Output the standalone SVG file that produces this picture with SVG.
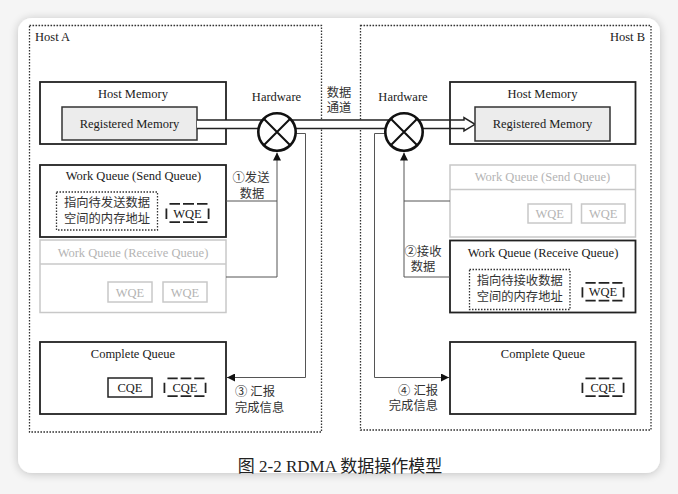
<svg xmlns="http://www.w3.org/2000/svg" xmlns:xlink="http://www.w3.org/1999/xlink" width="678" height="494" viewBox="0 0 678 494">
  <defs>
    <style>
      .t { font-family: "Liberation Serif", "Noto Sans CJK SC", serif; font-size: 12.5px; fill: #1a1a1a; }
      .zh { font-family: "Liberation Serif", "Noto Sans CJK SC", sans-serif; font-size: 12.3px; fill: #333; }
      .mid { text-anchor: middle; }
      .end { text-anchor: end; }
      .grey { fill: #b4b4b4; }
      .box { fill: #fff; stroke: #222; stroke-width: 1.8; }
      .reg { fill: #ececec; stroke: #333; stroke-width: 1.5; }
      .gbox { fill: #fff; stroke: #c8c8c8; stroke-width: 1.5; }
      .sbox { fill: #fff; stroke: #222; stroke-width: 1.5; }
      .dots { fill: #fff; stroke: #333; stroke-width: 1.3; stroke-dasharray: 1.5 1.5; }
      .host { fill: none; stroke: #333; stroke-width: 1.3; stroke-dasharray: 1.6 1.4; }
      .wire { fill: none; stroke: #555; stroke-width: 1; }
      .pipe { fill: none; stroke: #222; stroke-width: 1.5; }
      .hw { fill: #fff; stroke: #111; stroke-width: 2.6; }
      .hwx { stroke: #111; stroke-width: 2; }
      .cap { font-family: "Liberation Serif", "Noto Sans CJK SC", serif; font-size: 17px; fill: #222; }
    </style>
    <filter id="shadow" x="-5%" y="-5%" width="110%" height="112%">
      <feGaussianBlur in="SourceAlpha" stdDeviation="5"/>
      <feOffset dy="1"/>
      <feComponentTransfer><feFuncA type="linear" slope="0.22"/></feComponentTransfer>
      <feMerge><feMergeNode/><feMergeNode in="SourceGraphic"/></feMerge>
    </filter>
    <!-- heavy dashed entry box (WQE / CQE placeholders) -->
    <symbol id="dbox" viewBox="0 0 44 20" width="44" height="20" overflow="visible">
      <path d="M4,0.9 H14.5 M17.5,0.9 H28.5 M31.5,0.9 H42 M4,19.1 H14.5 M17.5,19.1 H28.5 M31.5,19.1 H42 M0.9,5.5 V16 M43.1,5.5 V16" fill="none" stroke="#222" stroke-width="1.8"/>
    </symbol>
    <marker id="arr" viewBox="0 0 10 10" refX="10" refY="5" markerWidth="8" markerHeight="8" markerUnits="userSpaceOnUse" orient="auto">
      <path d="M0,0 L10,5 L0,10 Z" fill="#111"/>
    </marker>
  </defs>

  <!-- page and card -->
  <rect x="0" y="0" width="678" height="494" fill="#f5f5f5"/>
  <rect x="18" y="18" width="642" height="455" rx="14" fill="#fff" filter="url(#shadow)"/>

  <!-- host frames -->
  <g id="hostA">
    <rect class="host" x="29.5" y="25.5" width="292" height="406.5"/>
    <text class="t" x="35" y="41">Host A</text>
  </g>
  <g id="hostB">
    <rect class="host" x="360.5" y="25.5" width="290.5" height="404.5"/>
    <text class="t end" x="645" y="41">Host B</text>
  </g>

  <!-- Host A nodes -->
  <g id="memA">
    <rect class="box" x="40" y="82" width="186" height="62"/>
    <text class="t mid" x="133" y="97.5">Host Memory</text>
  </g>
  <g id="regA">
    <rect class="reg" x="62" y="107" width="135" height="33"/>
    <text class="t mid" x="129.5" y="127.5">Registered Memory</text>
  </g>
  <g id="sqA">
    <rect class="box" x="40" y="165" width="186" height="72"/>
    <text class="t mid" x="133.5" y="180">Work Queue (Send Queue)</text>
    <rect class="dots" x="56.5" y="192" width="101" height="38"/>
    <text class="zh mid" x="107" y="207.3">指向待发送数据<tspan x="107" dy="15.7">空间的内存地址</tspan></text>
    <use xlink:href="#dbox" x="165.5" y="203"/>
    <text class="t mid" x="187.5" y="217.5">WQE</text>
  </g>
  <g id="rqA">
    <rect class="gbox" x="40" y="240" width="186" height="72.5"/>
    <line x1="40" y1="264" x2="226" y2="264" stroke="#c8c8c8" stroke-width="1.5"/>
    <text class="t mid grey" x="133" y="256.5">Work Queue (Receive Queue)</text>
    <rect class="gbox" x="108" y="282" width="44" height="20"/>
    <text class="t mid grey" x="130" y="296.5">WQE</text>
    <rect class="gbox" x="163" y="282" width="44" height="20"/>
    <text class="t mid grey" x="185" y="296.5">WQE</text>
  </g>
  <g id="cqA">
    <rect class="box" x="40" y="342" width="186" height="72"/>
    <text class="t mid" x="133" y="357.5">Complete Queue</text>
    <rect class="sbox" x="108" y="378" width="44" height="19"/>
    <text class="t mid" x="130" y="391.5">CQE</text>
    <use xlink:href="#dbox" x="163" y="377.5" height="19.5"/>
    <text class="t mid" x="185" y="391.5">CQE</text>
  </g>

  <!-- Host B nodes -->
  <g id="memB">
    <rect class="box" x="450" y="82" width="185.5" height="62"/>
    <text class="t mid" x="542.5" y="97.5">Host Memory</text>
  </g>
  <g id="sqB">
    <rect class="gbox" x="450" y="165" width="185.5" height="72"/>
    <line x1="450" y1="189.5" x2="635.5" y2="189.5" stroke="#c8c8c8" stroke-width="1.5"/>
    <text class="t mid grey" x="542.5" y="180.5">Work Queue (Send Queue)</text>
    <rect class="gbox" x="528" y="204" width="43.5" height="19"/>
    <text class="t mid grey" x="549.7" y="218">WQE</text>
    <rect class="gbox" x="581.5" y="204" width="43.5" height="19"/>
    <text class="t mid grey" x="603.2" y="218">WQE</text>
  </g>
  <g id="rqB">
    <rect class="box" x="450" y="240.5" width="185.5" height="72"/>
    <text class="t mid" x="543" y="256.5">Work Queue (Receive Queue)</text>
    <rect class="dots" x="469.5" y="269.5" width="100.5" height="40"/>
    <text class="zh mid" x="519.7" y="285.3">指向待接收数据<tspan x="519.7" dy="15.7">空间的内存地址</tspan></text>
    <use xlink:href="#dbox" x="581" y="282" height="19.5"/>
    <text class="t mid" x="603" y="296">WQE</text>
  </g>
  <g id="cqB">
    <rect class="box" x="450" y="342" width="185.5" height="72"/>
    <text class="t mid" x="543" y="357.5">Complete Queue</text>
    <use xlink:href="#dbox" x="581" y="377.5" height="19.5"/>
    <text class="t mid" x="603" y="391.5">CQE</text>
  </g>

  <!-- connectors -->
  <g id="connectors">
    <!-- data pipe: memory A -> hardware A -> hardware B -> memory B -->
    <rect x="197" y="120" width="80" height="8.5" fill="#fff"/>
    <path class="pipe" d="M197,120 H277 M197,128.5 H277"/>
    <rect x="277" y="120" width="127" height="8.5" fill="#fff"/>
    <path class="pipe" d="M277,120 H404 M277,128.5 H404"/>
    <path class="pipe" d="M404,120 H464 V117.5 L475,124.3 L464,131 V128.5 H404" fill="#fff"/>

    <!-- Host A control paths -->
    <path class="wire" d="M226,201 H277 M226,277 H277"/>
    <path class="wire" d="M277,277 V152.5" marker-end="url(#arr)"/>
    <path class="wire" d="M290,133.5 H305.5 V377.5 H227" marker-end="url(#arr)"/>

    <!-- Host B control paths -->
    <path class="wire" d="M450,201 H404 M450,277 H404"/>
    <path class="wire" d="M404,277 V152.5" marker-end="url(#arr)"/>
    <path class="wire" d="M390,133.5 H374.5 V377.5 H449" marker-end="url(#arr)"/>

    <!-- connector labels -->
    <text class="zh mid" x="339" y="96.5">数据<tspan x="339" dy="15.5">通道</tspan></text>
    <text class="zh mid" x="251" y="181.5">①发送<tspan x="252" dy="16">数据</tspan></text>
    <text class="zh mid" x="423" y="256">②接收<tspan x="423" dy="15">数据</tspan></text>
    <text class="zh" x="235" y="396">③ 汇报<tspan x="235" dy="15.5">完成信息</tspan></text>
    <text class="zh end" x="438" y="394.5">④ 汇报<tspan x="438" dy="15.5">完成信息</tspan></text>
  </g>

  <!-- hardware (NIC) switches -->
  <g id="hwA">
    <text class="t mid" x="276.5" y="101">Hardware</text>
    <circle class="hw" cx="277" cy="132" r="18.7"/>
    <path class="hwx" d="M263.8,118.8 L290.2,145.2 M290.2,118.8 L263.8,145.2"/>
  </g>
  <g id="hwB">
    <text class="t mid" x="403" y="101">Hardware</text>
    <circle class="hw" cx="404" cy="132" r="18.7"/>
    <path class="hwx" d="M390.8,118.8 L417.2,145.2 M417.2,118.8 L390.8,145.2"/>
  </g>

  <!-- Registered memory B drawn after the pipe so its edge meets the arrow tip -->
  <g id="regB">
    <rect class="reg" x="475" y="107" width="135" height="34"/>
    <text class="t mid" x="542.5" y="128">Registered Memory</text>
  </g>

  <text class="cap" x="340" y="472" text-anchor="middle">图 2-2 RDMA 数据操作模型</text>
</svg>
